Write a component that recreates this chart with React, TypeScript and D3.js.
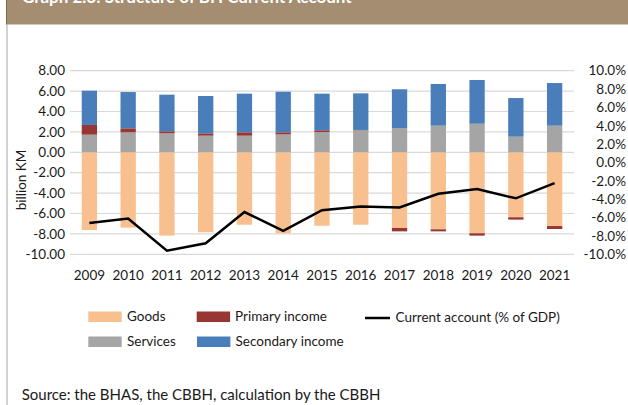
import React from "react";
import * as d3 from "d3";

const years = ["2009","2010","2011","2012","2013","2014","2015","2016","2017","2018","2019","2020","2021"];
const goods = [-7.62,-7.39,-8.17,-7.84,-7.10,-7.94,-7.20,-7.10,-7.42,-7.55,-7.94,-6.37,-7.23];
const services = [1.73,1.96,1.86,1.63,1.63,1.76,1.99,2.16,2.38,2.61,2.80,1.53,2.61];
const primaryIncome = [0.95,0.39,0.20,0.23,0.33,0.20,0.17,0.03,-0.33,-0.20,-0.23,-0.23,-0.29];
const secondaryIncome = [3.36,3.56,3.59,3.66,3.79,3.98,3.59,3.59,3.80,4.09,4.29,3.79,4.18];
const currentAccountPct = [-6.6,-6.1,-9.6,-8.8,-5.4,-7.45,-5.2,-4.8,-4.9,-3.4,-2.9,-3.9,-2.25];
const leftTicks = [8,6,4,2,0,-2,-4,-6,-8,-10];
const rightTicks = [10,8,6,4,2,0,-2,-4,-6,-8,-10];

const COLORS = {
  goods: "#F9C08F",
  primary: "#983634",
  services: "#A5A5A5",
  secondary: "#4A7EBB",
};

const FONT = "Lato, 'Noto Sans', sans-serif";

export default function App() {
  const W = 628, H = 405;
  const x = d3.scaleBand<string>().domain(years).range([70, 574]).paddingInner(0.605).paddingOuter(0.3025);
  const yL = d3.scaleLinear().domain([-10, 8]).range([254.3, 70.7]);
  const yR = d3.scaleLinear().domain([-10, 10]).range([254.3, 70.7]);
  const bw = x.bandwidth();

  const segs: { key: string; y0: number; y1: number; color: string; x: number }[] = [];
  years.forEach((yr, i) => {
    const xi = x(yr)!;
    let pos = 0, neg = 0;
    const add = (v: number, color: string, key: string) => {
      if (v >= 0) { segs.push({ key: key + yr, y0: pos, y1: pos + v, color, x: xi }); pos += v; }
      else { segs.push({ key: key + yr, y0: neg, y1: neg + v, color, x: xi }); neg += v; }
    };
    add(goods[i], COLORS.goods, "g");
    add(services[i], COLORS.services, "s");
    add(primaryIncome[i], COLORS.primary, "p");
    add(secondaryIncome[i], COLORS.secondary, "si");
  });

  const line = d3.line<number>()
    .x((_, i) => x(years[i])! + bw / 2)
    .y((d) => yR(d));

  return (
    <svg width={W} height={H} style={{ position: "absolute", left: 0, top: 0, display: "block" }} fontFamily={FONT}>
      <rect x={0} y={0} width={W} height={H} fill="#fff" />
      <rect x={6} y={0} width={W - 6} height={24.5} fill="#A58D71" />
      <line x1={6.5} y1={0} x2={6.5} y2={24.5} stroke="#7a6850" strokeWidth={1} />
      <line x1={7} y1={24.5} x2={7} y2={H} stroke="#A6A6A6" strokeWidth={1} />
      <text x={22} y={2.5} fill="#fff" fontWeight="bold" fontSize={17}>Graph 2.6: Structure of BH Current Account</text>

      {leftTicks.map((t) => (
        <line key={"g" + t} x1={70} x2={574} y1={yL(t)} y2={yL(t)} stroke="#D9D9D9" strokeWidth={1.2} />
      ))}
      {segs.map((s) => (
        <rect key={s.key} x={s.x} width={bw} y={yL(Math.max(s.y0, s.y1))} height={Math.abs(yL(s.y0) - yL(s.y1))} fill={s.color} />
      ))}
      <path d={line(currentAccountPct) || ""} fill="none" stroke="#000" strokeWidth={2.5} strokeLinejoin="miter" />

      {leftTicks.map((t) => (
        <text key={"l" + t} x={65} y={yL(t)} dy="0.35em" textAnchor="end" fontSize={13.5} fill="#1a1a1a">{t.toFixed(2)}</text>
      ))}
      {rightTicks.map((t) => (
        <text key={"r" + t} x={626} y={yR(t)} dy="0.35em" textAnchor="end" fontSize={13.5} fill="#1a1a1a">{t.toFixed(1) + "%"}</text>
      ))}
      {years.map((yr) => (
        <text key={"x" + yr} x={x(yr)! + bw / 2} y={279.5} textAnchor="middle" fontSize={13.5} fill="#1a1a1a">{yr}</text>
      ))}
      <text transform="translate(25.5,180) rotate(-90)" textAnchor="middle" fontSize={13.5} fill="#1a1a1a">billion KM</text>

      <g fontSize={13.5} fill="#1a1a1a">
        <rect x={88.3} y={311.5} width={33.4} height={10.5} fill={COLORS.goods} />
        <text x={127} y={321}>Goods</text>
        <rect x={196.7} y={311.5} width={33.4} height={10.5} fill={COLORS.primary} />
        <text x={235} y={321}>Primary income</text>
        <line x1={365} x2={390} y1={318} y2={318} stroke="#000" strokeWidth={2.5} />
        <text x={395.5} y={322}>Current account (% of GDP)</text>
        <rect x={88.3} y={336.5} width={33.4} height={10.5} fill={COLORS.services} />
        <text x={127} y={346}>Services</text>
        <rect x={197} y={336.5} width={33.4} height={10.5} fill={COLORS.secondary} />
        <text x={235.5} y={346}>Secondary income</text>
      </g>
      <text x={21.7} y={399.5} fontSize={15} fill="#1a1a1a">Source: the BHAS, the CBBH, calculation by the CBBH</text>
    </svg>
  );
}
